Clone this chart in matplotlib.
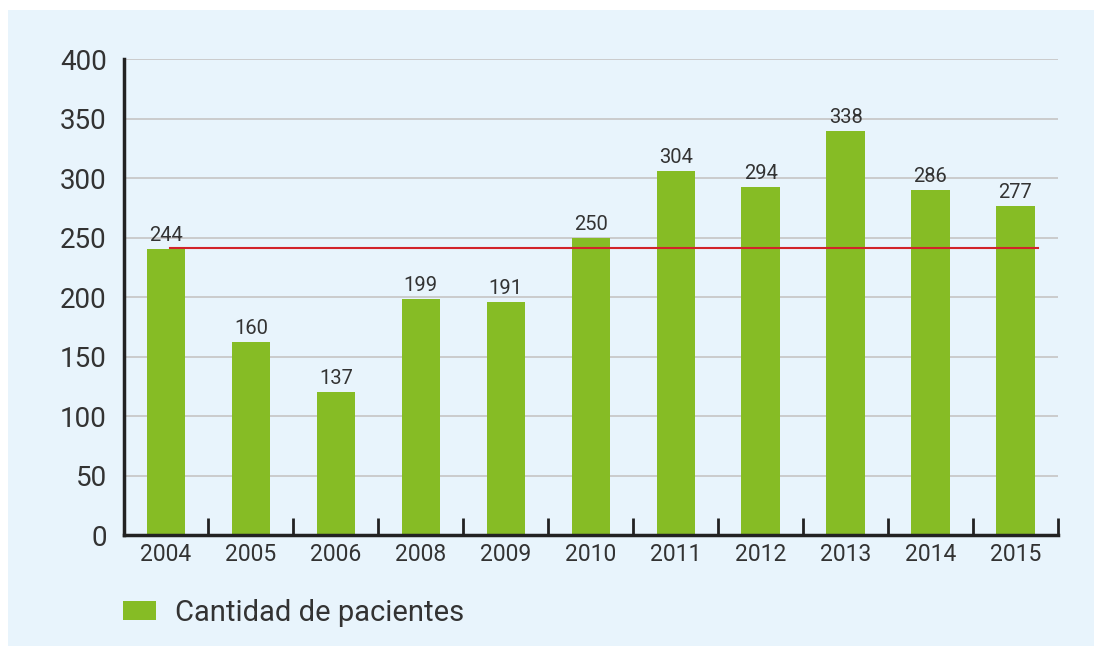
import matplotlib.pyplot as plt
from matplotlib.patches import Rectangle, Patch

plt.rcParams['font.family'] = ['Roboto', 'DejaVu Sans']

years = ['2004', '2005', '2006', '2008', '2009', '2010', '2011', '2012', '2013', '2014', '2015']
bar_heights = [240.5, 162.3, 120.3, 198.5, 196, 250, 306, 292.7, 339.8, 290.2, 276.7]
bar_labels = ['244', '160', '137', '199', '191', '250', '304', '294', '338', '286', '277']
average = 241.6
legend_label = 'Cantidad de pacientes'

green = '#86BC25'
red = '#D2232A'
text_col = '#333333'
bg = '#E8F4FC'

fig = plt.figure(figsize=(10.94, 6.46), dpi=100, facecolor='white')
fig.patches.append(Rectangle((8 / 1094, 0), 1, 1 - 10 / 646, transform=fig.transFigure,
                             facecolor=bg, edgecolor='none', zorder=-1))
ax = fig.add_axes([0.1129, 0.1718, 0.967 - 0.1129, 0.908 - 0.1718])
ax.set_facecolor('none')

x = list(range(len(years)))
ax.bar(x, bar_heights, width=0.45, color=green, zorder=3)
for xi, h, lab in zip(x, bar_heights, bar_labels):
    ax.annotate(lab, (xi, h), xytext=(0, 3), textcoords='offset points',
                ha='center', va='bottom', fontsize=14.5, color=text_col, zorder=4)

ax.plot([0.05, 10.27], [average, average], color=red, lw=1.5, zorder=4)

ax.set_xlim(-0.5, 10.5)
ax.set_ylim(0, 400)
ax.set_yticks(range(0, 401, 50))
ax.yaxis.grid(True, color='#C8C8C8', lw=1.3, zorder=0)
ax.tick_params(axis='y', length=0, labelsize=20, labelcolor=text_col, pad=12)

ax.set_xticks([i + 0.5 for i in x])
ax.set_xticklabels([])
ax.set_xticks(x, minor=True)
ax.set_xticklabels(years, minor=True)
ax.tick_params(axis='x', which='major', direction='in', length=12, width=2, color='#222222')
ax.tick_params(axis='x', which='minor', length=0, labelsize=16.5, labelcolor=text_col, pad=6)

for s in ['top', 'right']:
    ax.spines[s].set_visible(False)
for s in ['left', 'bottom']:
    ax.spines[s].set_linewidth(2.5)
    ax.spines[s].set_color('#222222')
    ax.spines[s].set_zorder(5)

handle = Patch(facecolor=green, edgecolor='none')
fig.legend([handle], [legend_label], loc='center left', bbox_to_anchor=(123 / 1094, 1 - 613 / 646),
           frameon=False, fontsize=21, borderpad=0, borderaxespad=0,
           handlelength=1.13, handleheight=0.62, handletextpad=0.65, labelcolor=text_col)

fig.savefig('out.png', dpi=100, facecolor=fig.get_facecolor())
